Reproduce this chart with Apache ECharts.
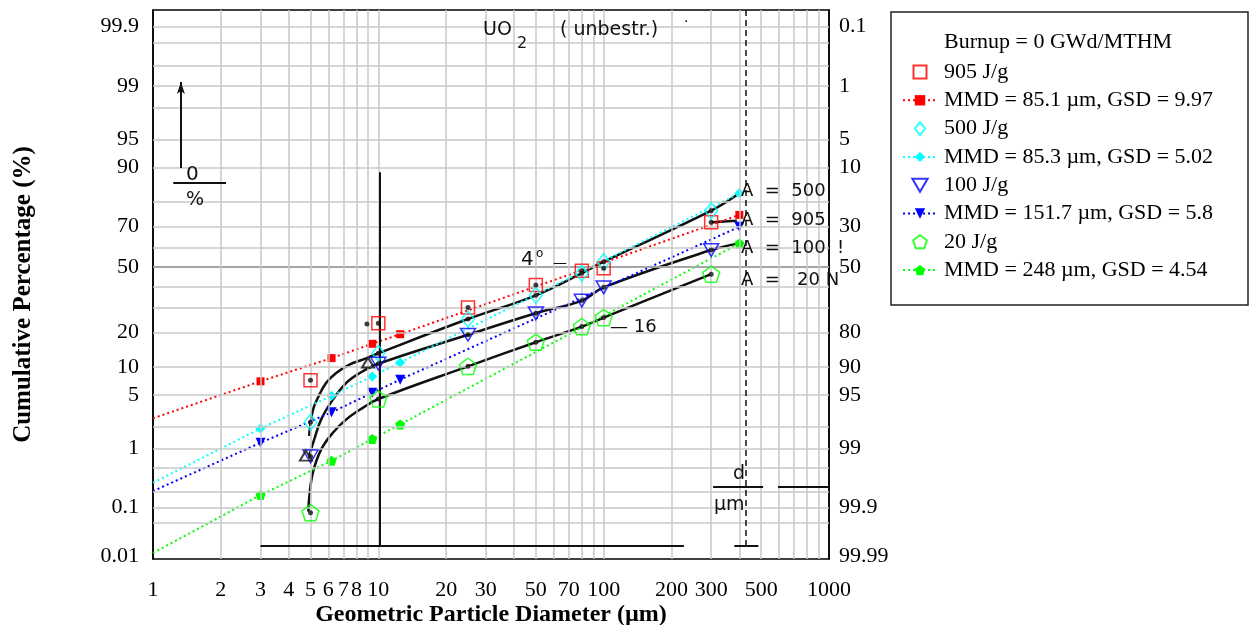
<!DOCTYPE html>
<html>
<head>
<meta charset="utf-8">
<script src="https://cdn.jsdelivr.net/npm/echarts@6.0.0/dist/echarts.min.js"></script>
<style>
html, body { margin: 0; padding: 0; background: #fff; }
#main { width: 1251px; height: 625px; }
</style>
</head>
<body>
<div id="main"></div>
<script>
// measured points (diameter in um, cumulative %)
var diam = [5, 10, 25, 50, 80, 100, 300];
var pct905 = [7.3, 23.5, 30.1, 40.9, 48.1, 49.3, 71.7];
var pct500 = [2.3, 13.4, 25.2, 35.8, 46.8, 52.7, 76.5];
var pct100 = [0.75, 10.7, 19.2, 27.6, 33.3, 39.7, 58.6];
var pct20 = [0.08, 4.5, 10.1, 16.7, 22.2, 25.8, 46.3];

// lognormal fit lines
var fitDiam = [1, 3, 6.2, 9.4, 12.5, 400];
var fit905 = [2.6, 7.1, 12.1, 16.2, 19.4, 74.8];
var fit500 = [0.28, 1.9, 4.9, 8.0, 11.0, 82.8];
var fit100 = [0.2, 1.2, 3.1, 5.3, 7.4, 69.7];
var fit20 = [0.012, 0.17, 0.64, 1.36, 2.16, 61.9];

// hand drawn curves of the scanned original
var c500d = [4.93, 5.11, 5.38, 5.86, 6.48, 7.44, 8.52, 10, 25, 50, 80, 100, 300, 400];
var c500p = [1.5, 3.2, 4.6, 6.8, 8.6, 10.5, 11.7, 13.4, 25.2, 35.8, 46.8, 52.7, 76.5, 82.8];
var c100d = [4.93, 5.19, 5.57, 6.27, 7.19, 8.23, 10, 25, 50, 80, 100, 300, 400];
var c100p = [0.75, 1.33, 2.5, 4.4, 6.8, 8.6, 10.7, 19.2, 27.6, 33.3, 39.7, 58.6, 61.9];
var c20d = [4.89, 4.94, 5.12, 5.57, 6.27, 7.19, 8.5, 10, 25, 50, 80, 100, 300];
var c20p = [0.084, 0.16, 0.41, 0.95, 1.65, 2.5, 3.5, 4.5, 10.1, 16.7, 22.2, 25.8, 46.3];
var c905d = [300, 390];
var c905p = [71.7, 72.4];
var extraDotD = [8.9];
var extraDotP = [23.2];
var scanTriD = [9.0, 4.77];
var scanTriP = [11.0, 0.77];

// ticks and grid
var xTicks = [1, 2, 3, 4, 5, 6, 7, 8, 10, 20, 30, 50, 70, 100, 200, 300, 500, 1000];
var yTicks = [0.01, 0.1, 1, 5, 10, 20, 50, 70, 90, 95, 99, 99.9];
var yTicksRight = ['99.99', '99.9', '99', '95', '90', '80', '50', '30', '10', '5', '1', '0.1'];
var xGrid = [2, 3, 4, 5, 6, 7, 8, 9, 10, 20, 30, 40, 50, 60, 70, 80, 90, 100, 200, 300, 400, 500, 600, 700, 800, 900];
var yGrid = [0.05, 0.1, 0.2, 0.5, 1, 2, 5, 10, 20, 30, 40, 50, 60, 70, 80, 90, 95, 98, 99, 99.5, 99.8, 99.9];

// inverse normal cdf, percent -> probability axis value
function probit(pct) {
    var p = pct / 100;
    var a = [-3.969683028665376e+01, 2.209460984245205e+02, -2.759285104469687e+02, 1.383577518672690e+02, -3.066479806614716e+01, 2.506628277459239e+00];
    var b = [-5.447609879822406e+01, 1.615858368580409e+02, -1.556989798598866e+02, 6.680131188771972e+01, -1.328068155288572e+01];
    var c = [-7.784894002430293e-03, -3.223964580411365e-01, -2.400758277161838e+00, -2.549732539343734e+00, 4.374664141464968e+00, 2.938163982698783e+00];
    var d = [7.784695709041462e-03, 3.224671290700398e-01, 2.445134137142996e+00, 3.754408661907416e+00];
    var q, r;
    if (p < 0.02425) {
        q = Math.sqrt(-2 * Math.log(p));
        return (((((c[0]*q+c[1])*q+c[2])*q+c[3])*q+c[4])*q+c[5]) / ((((d[0]*q+d[1])*q+d[2])*q+d[3])*q+1);
    }
    if (p > 1 - 0.02425) {
        q = Math.sqrt(-2 * Math.log(1 - p));
        return -(((((c[0]*q+c[1])*q+c[2])*q+c[3])*q+c[4])*q+c[5]) / ((((d[0]*q+d[1])*q+d[2])*q+d[3])*q+1);
    }
    q = p - 0.5; r = q * q;
    return (((((a[0]*r+a[1])*r+a[2])*r+a[3])*r+a[4])*r+a[5])*q / (((((b[0]*r+b[1])*r+b[2])*r+b[3])*r+b[4])*r+1);
}

function pts(xs, ps) {
    return xs.map(function (x, i) { return [x, probit(ps[i])]; });
}
function fitPts(xs, ps) {
    return xs.map(function (x, i) {
        var item = { value: [x, probit(ps[i])] };
        if (i === 0) item.symbol = 'none';
        return item;
    });
}

var yTickZ = yTicks.map(probit);
function tickIndex(v) {
    for (var i = 0; i < yTickZ.length; i++) {
        if (Math.abs(yTickZ[i] - v) < 1e-6) return i;
    }
    return -1;
}

var serif = 'Liberation Serif';
var square = 'path://M0,0 L10,0 L10,10 L0,10 Z';
var diamond = 'path://M0,-10 L8,0 L0,10 L-8,0 Z';
var pentagon = 'path://M0,-10 L9.51,-3.09 L5.88,8.09 L-5.88,8.09 L-9.51,-3.09 Z';
var triDown = 'path://M-10,-8 L10,-8 L0,9 Z';

function openSeries(name, data, color, symbol, size) {
    return {
        name: name, type: 'scatter', z: 5, symbol: symbol, symbolSize: size, symbolKeepAspect: true,
        itemStyle: { color: 'rgba(0,0,0,0)', borderColor: color, borderWidth: 1.5 },
        data: data
    };
}
function fitSeries(name, data, color, symbol, size) {
    return {
        name: name, type: 'line', z: 4, symbol: symbol, symbolSize: size, showSymbol: true,
        itemStyle: { color: color },
        lineStyle: { color: color, width: 2, type: [2, 3] },
        data: data
    };
}
function scanCurve(name, data) {
    return {
        name: name, type: 'line', z: 3, smooth: 0.4, symbol: 'none', silent: true,
        lineStyle: { color: '#111', width: 2.5 },
        data: data
    };
}

var chart = echarts.init(document.getElementById('main'));
var option = {
    animation: false,
    backgroundColor: '#fff',
    grid: {
        left: 153, right: 422, top: 10, bottom: 66,
        outerBoundsMode: 'none', containLabel: false,
        show: true, borderColor: '#000', borderWidth: 1.5, backgroundColor: '#fff'
    },
    xAxis: {
        type: 'log', logBase: 10, min: 1, max: 1000,
        name: 'Geometric Particle Diameter (µm)',
        nameLocation: 'middle', nameGap: 44, nameMoveOverlap: false,
        nameTextStyle: { fontFamily: serif, fontWeight: 'bold', fontSize: 24, color: '#000' },
        axisLine: { lineStyle: { color: '#000', width: 1.5 } },
        axisTick: { show: false },
        splitLine: { show: false },
        minorSplitLine: { show: false },
        axisLabel: {
            customValues: xTicks,
            formatter: function (v) { return String(Math.round(v)); },
            fontFamily: serif, fontSize: 22, color: '#000', margin: 20
        }
    },
    yAxis: [{
        type: 'value', min: -3.75, max: 3.3, position: 'left',
        name: 'Cumulative Percentage (%)',
        nameLocation: 'middle', nameGap: 117, nameRotate: 90, nameMoveOverlap: false,
        nameTextStyle: { fontFamily: serif, fontWeight: 'bold', fontSize: 25, color: '#000', padding: [0, 20, 0, 0] },
        axisLine: { show: true, lineStyle: { color: '#000', width: 1.5 } },
        axisTick: { show: false },
        splitLine: { show: false },
        axisLabel: {
            customValues: yTickZ,
            formatter: function (v) { var i = tickIndex(v); return i < 0 ? '' : String(yTicks[i]); },
            fontFamily: serif, fontSize: 22, color: '#000', margin: 14
        }
    }, {
        type: 'value', min: -3.75, max: 3.3, position: 'right',
        axisLine: { show: true, lineStyle: { color: '#000', width: 1.5 } },
        axisTick: { show: false },
        splitLine: { show: false },
        axisLabel: {
            customValues: yTickZ,
            formatter: function (v) { var i = tickIndex(v); return i < 0 ? '' : yTicksRight[i]; },
            fontFamily: serif, fontSize: 22, color: '#000', margin: 10
        }
    }],
    legend: {
        orient: 'vertical', left: 897, top: 56, itemWidth: 34, itemHeight: 13, itemGap: 6.3,
        symbolKeepAspect: true,
        textStyle: { fontFamily: serif, fontSize: 22, color: '#000', padding: [0, 0, 0, 2] },
        data: ['905 J/g', 'MMD = 85.1 µm, GSD = 9.97', '500 J/g', 'MMD = 85.3 µm, GSD = 5.02',
               '100 J/g', 'MMD = 151.7 µm, GSD = 5.8', '20 J/g', 'MMD = 248 µm, GSD = 4.54']
    },
    graphic: [
        { type: 'rect', x: 891, y: 12, shape: { width: 357, height: 293 }, style: { fill: 'none', stroke: '#222', lineWidth: 1.5 }, z: 10 },
        { type: 'text', x: 944, y: 42, style: { text: 'Burnup = 0 GWd/MTHM', font: '22px "Liberation Serif"', fill: '#000', verticalAlign: 'middle' }, z: 10 },
        { type: 'text', x: 483, y: 30, style: { text: 'UO', font: '19px "DejaVu Sans"', fill: '#111', verticalAlign: 'middle' }, z: 10 },
        { type: 'text', x: 517, y: 44, style: { text: '2', font: '16px "DejaVu Sans"', fill: '#111', verticalAlign: 'middle' }, z: 10 },
        { type: 'text', x: 560, y: 30, style: { text: '( unbestr.)', font: '19px "DejaVu Sans"', fill: '#111', verticalAlign: 'middle' }, z: 10 },
        { type: 'text', x: 684, y: 22, style: { text: '·', font: '14px "DejaVu Sans"', fill: '#111', verticalAlign: 'middle' }, z: 10 },
        { type: 'text', x: 741, y: 191, style: { text: 'A  =  500', font: '18px "DejaVu Sans"', fill: '#111', verticalAlign: 'middle' }, z: 10 },
        { type: 'text', x: 741, y: 220, style: { text: 'A  =  905', font: '18px "DejaVu Sans"', fill: '#111', verticalAlign: 'middle' }, z: 10 },
        { type: 'text', x: 741, y: 248, style: { text: 'A  =  100  !', font: '18px "DejaVu Sans"', fill: '#111', verticalAlign: 'middle' }, z: 10 },
        { type: 'text', x: 741, y: 280, style: { text: 'A  =   20 N', font: '18px "DejaVu Sans"', fill: '#111', verticalAlign: 'middle' }, z: 10 },
        { type: 'text', x: 521, y: 260, style: { text: '4', font: '20px "DejaVu Sans"', fill: '#111', verticalAlign: 'middle' }, z: 10 },
        { type: 'text', x: 536, y: 254, style: { text: 'o', font: '12px "DejaVu Sans"', fill: '#111', verticalAlign: 'middle' }, z: 10 },
        { type: 'text', x: 553, y: 263, style: { text: '—', font: '14px "DejaVu Sans"', fill: '#111', verticalAlign: 'middle' }, z: 10 },
        { type: 'text', x: 610, y: 327, style: { text: '— 16', font: '18px "DejaVu Sans"', fill: '#111', verticalAlign: 'middle' }, z: 10 },
        { type: 'text', x: 186, y: 175, style: { text: '0', font: '20px "DejaVu Sans"', fill: '#111', verticalAlign: 'middle' }, z: 10 },
        { type: 'text', x: 186, y: 200, style: { text: '%', font: '19px "DejaVu Sans"', fill: '#111', verticalAlign: 'middle' }, z: 10 },
        { type: 'text', x: 733, y: 474, style: { text: 'd', font: '19px "DejaVu Sans"', fill: '#111', verticalAlign: 'middle' }, z: 10 },
        { type: 'text', x: 714, y: 505, style: { text: 'µm', font: '19px "DejaVu Sans"', fill: '#111', verticalAlign: 'middle' }, z: 10 }
    ],
    series: [
        {
            name: 'paper grid', type: 'line', data: [], z: 1, silent: true,
            markLine: {
                silent: true, symbol: 'none', label: { show: false },
                lineStyle: { color: '#c9c9c9', width: 1.5, type: 'solid' },
                data: xGrid.map(function (v) { return { xAxis: v }; })
                    .concat(yGrid.map(function (p) { return { yAxis: probit(p) }; }))
            }
        },
        {
            name: 'scan lines', type: 'line', data: [], z: 2, silent: true,
            markLine: {
                silent: true, symbol: 'none', label: { show: false },
                lineStyle: { color: '#111', width: 2, type: 'solid' },
                data: [
                    [{ coord: [10.1, probit(88.8)] }, { coord: [10.1, probit(0.0176)] }],
                    [{ coord: [3.0, probit(0.0176)] }, { coord: [227, probit(0.0176)] }],
                    [{ coord: [380, probit(0.0176)] }, { coord: [486, probit(0.0176)] }],
                    [{ coord: [428, 3.3], lineStyle: { type: [6, 4], width: 1.5 } }, { coord: [428, probit(0.0176)] }],
                    [{ coord: [306, probit(0.242)] }, { coord: [510, probit(0.242)] }],
                    [{ coord: [594, probit(0.242)] }, { coord: [1000, probit(0.242)] }],
                    [{ coord: [1.23, probit(85.9)] }, { coord: [2.11, probit(85.9)] }],
                    [{ coord: [1.33, probit(89.8)], symbol: 'none' }, { coord: [1.33, probit(99.12)], symbol: 'arrow', symbolSize: [6, 12] }]
                ]
            }
        },
        scanCurve('scan 500', pts(c500d, c500p)),
        scanCurve('scan 100', pts(c100d, c100p)),
        scanCurve('scan 20', pts(c20d, c20p)),
        scanCurve('scan 905', pts(c905d, c905p)),
        {
            name: 'scan dots', type: 'scatter', z: 6, symbol: 'circle', symbolSize: 5, silent: true,
            itemStyle: { color: '#111' },
            data: pts(diam, pct905).concat(pts(diam, pct500), pts(diam, pct100), pts(diam, pct20), pts(extraDotD, extraDotP))
        },
        {
            name: 'scan triangles', type: 'scatter', z: 6, symbol: 'triangle', symbolSize: [12, 10], silent: true,
            itemStyle: { color: 'rgba(0,0,0,0)', borderColor: '#111', borderWidth: 2 },
            data: pts(scanTriD, scanTriP)
        },
        fitSeries('MMD = 85.1 µm, GSD = 9.97', fitPts(fitDiam, fit905), '#ff0000', square, 8),
        fitSeries('MMD = 85.3 µm, GSD = 5.02', fitPts(fitDiam, fit500), '#00ffff', diamond, 10),
        fitSeries('MMD = 151.7 µm, GSD = 5.8', fitPts(fitDiam, fit100), '#0000ff', triDown, 10),
        fitSeries('MMD = 248 µm, GSD = 4.54', fitPts(fitDiam, fit20), '#00ff00', pentagon, 10),
        openSeries('905 J/g', pts(diam, pct905), '#ff0000', square, 13),
        openSeries('500 J/g', pts(diam, pct500), '#00ffff', diamond, 16),
        openSeries('100 J/g', pts(diam, pct100), '#0000ff', triDown, 15),
        openSeries('20 J/g', pts(diam, pct20), '#00ff00', pentagon, 17)
    ]
};
chart.setOption(option);
window.addEventListener('resize', chart.resize);
</script>
</body>
</html>
